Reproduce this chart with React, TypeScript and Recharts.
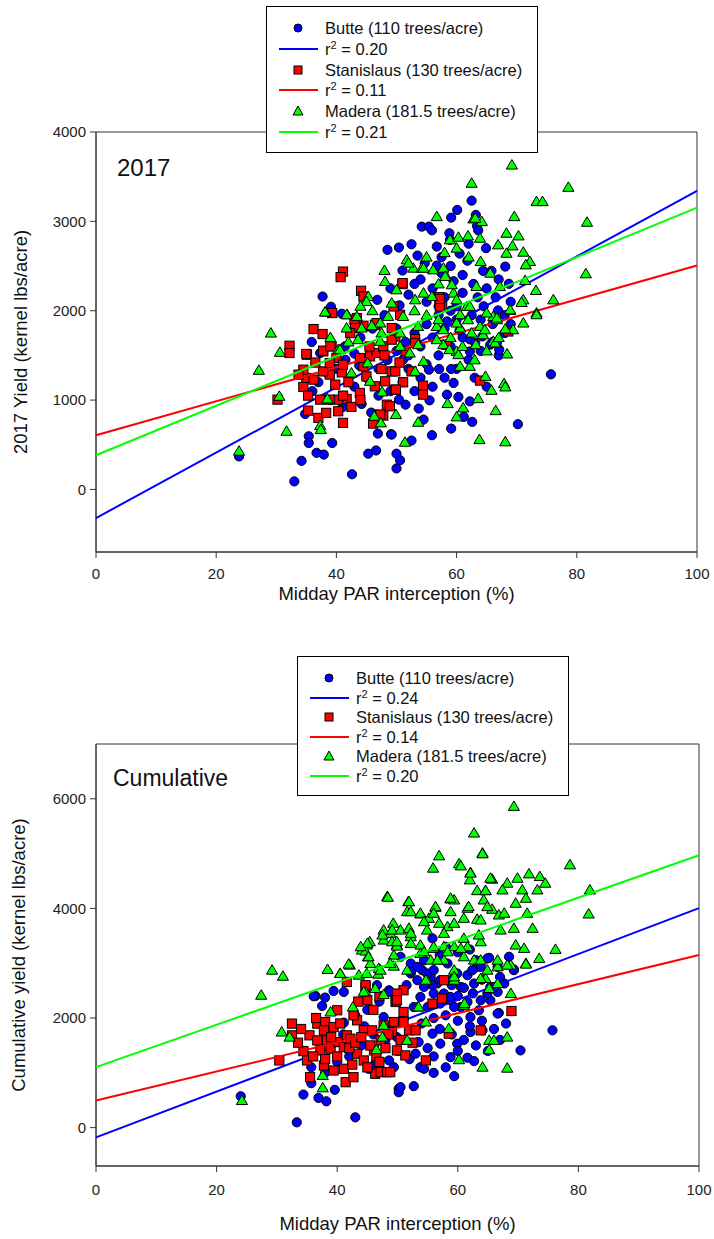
import React from 'react'
import {ScatterChart, Scatter, XAxis, YAxis, ReferenceArea, Legend} from 'recharts'

const FONT = '"Liberation Sans", Arial, sans-serif'

// axis ticks
const xTicks = [0, 20, 40, 60, 80, 100]
const yTicks2017 = [0, 1000, 2000, 3000, 4000]
const yTicksCum = [0, 2000, 4000, 6000]

const seriesNames = ['Butte (110 trees/acre)', 'Stanislaus (130 trees/acre)', 'Madera (181.5 trees/acre)']
const r2Values2017 = ['0.20', '0.11', '0.21']
const r2ValuesCum = ['0.24', '0.14', '0.20']

// regression lines, yield at 0 % and at 100 % interception
const fitButte2017 = [-320, 3340]
const fitStan2017 = [607, 2506]
const fitMadera2017 = [383, 3154]
const fitButteCum = [-178, 4005]
const fitStanCum = [494, 3150]
const fitMaderaCum = [1104, 4969]

// [PAR interception %, yield lbs/acre]
const butte2017: [number, number][] = [
    [23.8, 370], [33, 90], [34.2, 320], [35.4, 595], [35.4, 520], [36.7, 410], [37.9, 390], [39.3, 520], [42.6, 170],
    [34.8, 845], [45.3, 400], [46.6, 436], [46.9, 625], [49.1, 618], [50, 400], [50, 235], [50.6, 327], [44.2, 957],
    [45.8, 860], [46.7, 838], [52.5, 547], [55.9, 607], [59.1, 681], [62.6, 756], [61.2, 812], [54.5, 782], [53.7, 905],
    [49.2, 614], [55.5, 997], [60.3, 1035], [58.4, 1061], [62.2, 986], [51.5, 949], [50.4, 1005], [75.7, 1288], [70.2, 730],
    [37.7, 2159], [39.1, 2044], [40.9, 1966], [46.8, 2122], [35.9, 1650], [37.3, 1527], [41.4, 1601], [43.8, 1388],
    [62.5, 3232], [63.2, 3072], [60.1, 3128], [59.1, 3042], [54.2, 2941], [55.4, 2941], [63.4, 2949], [63.6, 2900],
    [52.5, 2744], [50.4, 2707], [48.5, 2681], [56.7, 2718], [53.5, 2617], [58.8, 2867], [58.9, 2793], [64.9, 2700],
    [56.7, 2505], [54.7, 2532], [64.4, 2446], [65.8, 2446], [68.1, 2494], [66.9, 2003], [68.7, 2301], [62, 2750],
    [60.5, 2640], [61.8, 2560], [57.5, 2420], [59.5, 2330], [61, 2200], [63.5, 2150], [65, 2250], [67, 2350], [69, 2100],
    [66, 1850], [64, 1900], [62.5, 1950], [60, 2050], [58, 2150], [56, 2250], [54, 2350], [52, 2180], [50.5, 2060],
    [48, 1950], [46, 1800], [44, 1700], [43, 1520], [41.5, 1450], [40, 1350], [38.5, 1300], [37, 1200], [36, 1100],
    [39, 1000], [41, 920], [43, 1150], [45, 1250], [47, 1350], [48.5, 1450], [50, 1550], [51.5, 1650], [53, 1750],
    [55, 1850], [57, 1950], [52, 1350], [54, 1250], [56, 1150], [58, 1250], [60, 1350], [62, 1450], [64, 1550],
    [66, 1650], [68, 1750], [63, 1250], [65, 1150], [67, 1500], [69, 1850], [61, 1700], [59, 1600], [57, 1500],
    [55, 1400], [53, 1100], [51, 1200], [49, 1100], [47, 1050], [58.4, 1880], [60.5, 1780], [62.2, 1680], [64.3, 1712],
    [65.6, 1620], [66.7, 1639], [67.1, 1564], [63.1, 1639], [62.2, 1545], [51.1, 1452], [55.4, 1340], [57.1, 1348],
    [59.1, 1348], [59.5, 1192], [55.9, 2900], [57.5, 2600], [59, 2500], [61, 2400], [62.8, 2300], [64.5, 2050],
    [66.5, 2150], [68, 1950], [60, 1900], [58, 1800], [56, 1700], [54, 1600], [52, 1500], [50, 1800], [49, 2250],
    [51, 2450], [53, 2300], [55, 2100], [57, 2050], [59, 2000],
]

const stan2017: [number, number][] = [
    [36.2, 1795], [37.7, 1739], [32.2, 1608], [32.2, 1527], [35.1, 1508], [37.8, 1545], [34.5, 1147], [35.3, 1050],
    [30.2, 1005], [35.3, 882], [37, 801], [38.3, 857], [41.1, 745], [40.3, 875], [41.7, 1013], [42.5, 924], [40.3, 1005],
    [39.8, 1173], [40.9, 1310], [38.9, 1285], [37.8, 1321], [37.3, 1005], [38.9, 1005], [41.1, 1050], [43.9, 1080],
    [45, 1265], [46.4, 1154], [47.5, 1348], [48.1, 1210], [49.2, 1321], [49.8, 1117], [48.4, 949], [47.8, 827],
    [46.1, 737], [47.3, 838], [44.5, 1377], [43.9, 1471], [45.6, 1489], [46.7, 1527], [47.8, 1601], [49.8, 1712],
    [49.2, 1806], [44.5, 1832], [43.4, 1918], [46.4, 1843], [39.2, 1601], [40, 1471], [41.1, 1396], [35, 1248],
    [36.2, 1229], [34.5, 1340], [33.7, 1285], [38.9, 1415], [41.1, 2438], [40.7, 2376], [44.1, 2223], [44.5, 2159],
    [51, 2298], [57.1, 2152], [57.6, 2048], [39.3, 1974], [43, 1899], [43.1, 1806], [42.3, 1750], [46.7, 1862],
    [49.2, 1676], [50.6, 1955], [53.1, 1683], [35, 1516], [37.8, 1553], [39, 1601], [58.3, 1620], [63.9, 1218],
    [54.4, 1162], [54.4, 1061], [51.1, 1199], [49.9, 1117], [49.8, 1321], [52.5, 1321], [48.9, 931], [53.1, 1639],
    [68.6, 1768], [49.5, 2048], [57.2, 2048], [51, 2309], [57.2, 2133], [36.5, 1420], [42, 1200], [44, 1000],
    [45.5, 1600], [48, 1500], [51.5, 1550], [50.5, 1420],
]

const madera2017: [number, number][] = [
    [29.1, 1750], [30.6, 1534], [27.1, 1333], [30.5, 1042], [31.7, 651], [23.8, 428], [37.3, 715], [37.4, 670],
    [38.5, 1013], [42.5, 1303], [38.2, 1985], [41.8, 1955], [40.3, 1564], [45.2, 1415], [45.6, 1210], [46.3, 819],
    [47.4, 745], [47.6, 1091], [49.9, 838], [62.5, 3426], [56.7, 3053], [62.8, 3027], [64.2, 2997], [58.9, 2793],
    [60.3, 2822], [61.9, 2837], [63.9, 2811], [66.9, 2737], [51.7, 2569], [52.8, 2476], [54.2, 2476], [56.1, 2457],
    [57.8, 2476], [58.3, 2383], [48.1, 2327], [50, 2234], [45.3, 2159], [45, 2103], [43.4, 1936], [41.7, 1955],
    [38.1, 1985], [49.2, 2085], [48.6, 1936], [47.3, 1862], [51.1, 1936], [53.1, 2122], [54.5, 2197], [55.9, 2159],
    [59.5, 2197], [60, 2122], [41.7, 1806], [44.2, 1806], [45.9, 1832], [47.5, 1750], [50.6, 1750], [53.6, 1824],
    [56.7, 1824], [60.6, 1806], [63.9, 1824], [66.1, 1936], [40.6, 1564], [43.6, 1676], [47.3, 1657], [50.6, 1601],
    [53.6, 1620], [57.8, 1620], [60, 1545], [64.4, 1731], [66.1, 1657], [69.2, 3630], [78.6, 3381], [73.3, 3221],
    [74.3, 3221], [63.1, 3035], [69.6, 3053], [81.7, 2990], [68.3, 2867], [70.3, 2837], [69.3, 2725], [71.1, 2655],
    [72.2, 2550], [71.5, 2513], [81.5, 2413], [71.4, 2338], [73.2, 2226], [76.1, 2122], [71.1, 2122], [70.8, 2092],
    [68.9, 2003], [73.3, 1974], [63.3, 2271], [65.6, 2420], [68.3, 2643], [67.2, 2271], [54.5, 2476], [58.1, 2383],
    [59.2, 2290], [61.7, 2048], [65, 1974], [66.7, 1899], [52, 2532], [73.3, 1955], [71.1, 1862], [69.4, 1787],
    [68.1, 1795], [68.4, 1516], [64.8, 1265], [67.9, 1184], [68.1, 1147], [65.8, 1109], [63.6, 1016], [66.5, 882],
    [61.1, 912], [60, 812], [63.8, 558], [68.1, 533], [51.4, 528], [53.6, 752], [58.5, 961], [62.2, 1377], [60.6, 1377],
    [53.1, 1321], [54.5, 1433], [58.8, 1564], [60.3, 1508], [62.5, 1750], [64.7, 1787], [66.4, 1639], [63.2, 1620],
    [52.2, 1527], [50.6, 1601], [56.7, 1676], [57.8, 1787], [60, 1862], [61.9, 1899], [60.6, 1955], [62.2, 2048],
    [66.7, 1918], [68.9, 2011], [58, 2650], [60, 2700], [62, 2600], [64, 2550], [55, 2600], [57, 2300], [53, 2000],
    [55, 1950], [57, 1900], [59, 1700], [61, 1600], [63, 1450], [65, 1550], [67, 1700], [48, 2450], [46, 2000],
    [44, 2050], [42, 1650], [39, 1700],
]

const butteCum: [number, number][] = [
    [24, 573], [33.3, 97], [34.4, 604], [36.9, 543], [38.2, 481], [39.6, 690], [43, 188], [35.7, 1103], [35.7, 811],
    [36.4, 2403], [37.5, 2220], [38, 2373], [39.4, 2494], [41.1, 2476], [41.1, 1916], [45.2, 1074], [46.3, 1166],
    [47.7, 2018], [48.6, 1226], [49.4, 1103], [48.6, 2507], [50.2, 708], [50.2, 646], [75.7, 1775], [70.4, 1409],
    [50.5, 738], [52.7, 756], [59.4, 939], [56, 1299], [53.8, 1103], [54.4, 1074], [58.8, 1287], [61.6, 1276],
    [62.7, 1214], [66.8, 2092], [69.3, 2873], [65.4, 2567], [66.6, 2476], [67.7, 2630], [65.4, 2324], [63.5, 2141],
    [62.1, 2018], [60.5, 2201], [58.8, 2324], [57.7, 2447], [56.6, 2630], [55.5, 2750], [54.1, 2873], [52.2, 2813],
    [62.1, 1744], [64.1, 1775], [57.1, 1532], [59.9, 1532], [55.8, 1715], [53.5, 1561], [49.9, 1652], [36.1, 2397],
    [46.6, 2599], [48.8, 2476], [50.5, 3117], [52.2, 2995], [53.3, 2934], [54.9, 2813], [56, 2873], [53.3, 2690],
    [54.4, 2567], [57.1, 2690], [59.4, 2750], [61.6, 2782], [63.2, 2934], [65.2, 3098], [66.6, 2934], [62.7, 2630],
    [60.5, 2567], [58.8, 2385], [56, 2447], [53.8, 2385], [52.7, 2201], [57.1, 2264], [59.4, 2201], [61.6, 2293],
    [63.8, 2324], [64.9, 2447], [66.6, 2081], [66, 2567], [55.8, 3453], [63, 3056], [64.9, 3087], [68.5, 3117],
    [69.3, 2886], [63.8, 2934], [54.4, 3056], [58.3, 2995], [62.4, 2873], [52.2, 2842], [59.9, 2813], [51, 2000],
    [52, 1800], [54, 1900], [56, 2000], [58, 2050], [60, 1950], [62, 1850], [64, 1950], [66, 1800], [68, 1900],
    [55, 2200], [57, 1800], [59, 1700], [61, 1600], [63, 1500], [65, 1400], [67, 1600], [60, 1400], [58, 1100],
    [56, 1000], [52, 1250], [50, 1400], [48, 1600], [46, 1700], [44, 1500], [42, 1300], [40, 1200], [38, 1000],
    [55, 1450], [53, 1350], [61, 2550], [59, 2600], [57, 3150], [60, 3200], [62, 3250], [58, 3300], [64, 2700],
    [67, 2750], [62.5, 2450], [60, 2400], [55.8, 2600], [51.5, 2600], [47, 2300], [45, 2150], [43, 2050],
    [44.5, 1850], [41, 1700],
]

const stanCum: [number, number][] = [
    [30.4, 1226], [32.5, 1898], [32.5, 1684], [35.4, 1684], [34.4, 1396], [35, 1226], [35.5, 920], [36.7, 1898],
    [38, 1927], [37.8, 1775], [39.4, 1836], [36.7, 1592], [38.3, 1592], [37.2, 1409], [38.9, 1440], [40.2, 1561],
    [41.6, 1684], [41.1, 1470], [37.8, 1135], [39.4, 1043], [41.1, 1074], [41.4, 829], [42.7, 920], [43.3, 1958],
    [44.4, 1775], [45.8, 1775], [45, 2324], [44.7, 2567], [46.1, 1409], [47.2, 1592], [47.7, 1867], [49.1, 1744],
    [49.7, 2324], [49.9, 1409], [46.3, 982], [47.2, 1012], [48.3, 1012], [40, 2141], [42.2, 1623], [43.3, 1349],
    [44.4, 1226], [68.9, 2128], [54.7, 1226], [63.8, 1775], [58.5, 1715], [55.8, 2264], [57.4, 2355], [57.7, 2690],
    [51, 2507], [49.9, 2447], [49.7, 2293], [51, 2110], [51, 1927], [49.4, 1927], [51.9, 1775], [53, 1775],
    [51.3, 1318], [48.8, 1012], [44.7, 2599], [41.6, 2659], [49.9, 2324], [42.7, 2050], [36, 1300], [38, 1250],
    [39, 1650], [40.5, 1900], [42, 1450], [43, 1550], [44, 1650], [45.5, 1500], [46.5, 1300], [48, 1450], [36.5, 2000],
    [34, 1800], [33.5, 1550], [40, 1300], [42.5, 1150], [45, 1100], [47, 1200], [48.5, 1700], [50.5, 1600],
    [52.5, 1550], [46, 2150], [47, 2400], [43.5, 2300],
]

const maderaCum: [number, number][] = [
    [29.2, 2873], [31, 2763], [27.4, 2416], [30.8, 1744], [32.1, 1652], [24.2, 494], [37.6, 952], [37.6, 726],
    [38.9, 2110], [38.4, 2886], [40.5, 2813], [42.1, 2965], [43.6, 2782], [44.9, 2813], [46.8, 2800], [49.4, 2946],
    [42.6, 2201], [44.7, 2476], [46.3, 2538], [47.7, 2428], [47.5, 1652], [46.5, 1422], [47.7, 1867], [48.3, 4215],
    [49.3, 3728], [47.7, 3545], [48.8, 3545], [47.7, 3422], [49.1, 3391], [45.4, 3391], [44.9, 3331], [44.1, 3239],
    [44.7, 3221], [45.1, 3117], [41.9, 2983], [45.5, 2995], [46.9, 2904], [49.4, 3148], [49.9, 3331], [62.7, 5375],
    [56.9, 4959], [55.9, 4734], [64.1, 5009], [60.2, 4813], [60.5, 4776], [62.1, 4654], [62, 4520], [65.7, 4533],
    [63.2, 4324], [64.6, 4324], [48.4, 4203], [51.8, 4123], [58.8, 4172], [59.4, 4154], [56.3, 4020], [61.6, 4002],
    [64.3, 4154], [65.7, 3984], [51.6, 3940], [53.8, 3898], [55.2, 3819], [58.8, 3940], [61, 3819], [63.2, 3801],
    [66.8, 3880], [47.7, 3605], [49.1, 3605], [50.5, 3605], [51.9, 3636], [54.9, 3605], [58.3, 3666], [61, 3453],
    [63.8, 3788], [47.5, 3514], [49.9, 3312], [52.2, 3483], [53.8, 3331], [56, 3270], [57.7, 3300], [59.4, 3300],
    [61.6, 3300], [63.8, 3391], [45, 3361], [43.9, 3300], [40.5, 2813], [45.2, 3117], [47.2, 2873], [48.8, 2995],
    [53.8, 3178], [55.5, 3056], [57.7, 3056], [61, 3117], [62.7, 3056], [66.6, 2934], [44.4, 2476], [54.9, 2690],
    [59.4, 2690], [64.6, 2721], [61, 2233], [53.3, 2201], [69.3, 5861], [64.1, 4996], [78.6, 4795], [62.1, 4643],
    [65.4, 4551], [69.9, 4551], [71.8, 4630], [73.6, 4581], [74.5, 4460], [73.2, 4337], [70.7, 4337], [68.2, 4460],
    [67.4, 4337], [64.6, 4324], [81.9, 4337], [81.7, 3898], [71.3, 4185], [69.6, 4094], [71.5, 3911], [67.7, 3911],
    [64.9, 4032], [61.8, 4032], [58.8, 4185], [56.3, 4032], [51.9, 4123], [69.3, 3636], [72.4, 3636], [67.1, 3605],
    [63.5, 3514], [69.6, 3331], [71, 3270], [76.2, 3252], [73.5, 3087], [71.3, 2995], [52.2, 3940], [53.8, 3911],
    [56, 3911], [54.4, 3757], [56.9, 3728], [59.4, 3728], [57.7, 3545], [52.2, 3545], [49.9, 3391], [52.2, 3361],
    [54.4, 3208], [56, 3300], [58.3, 3208], [60.5, 3270], [56.6, 3056], [59.4, 2873], [63.8, 3056], [66.6, 3056],
    [68.8, 2965], [68.2, 1652], [68.2, 1085], [64.1, 1103], [65.2, 1592], [66, 1592], [65.2, 1422], [60.2, 1239],
    [58.5, 1806], [61.1, 2264], [54.7, 1927], [53.5, 2201], [51.6, 1592], [68.8, 2447], [66.6, 2630], [65.2, 2538],
    [63.8, 2721], [64.9, 2873], [68.2, 2965], [71.3, 2983], [59.4, 2750], [54.7, 2690], [51.6, 2873],
]

const BLUE = '#0000ff'
const RED = '#ff0000'
const GREEN = '#00ff00'
const AXIS = '#333333'

const toPoints = (pts: [number, number][]) => pts.map(([x, y]) => ({x, y}))
const toLine = (fit: number[]) => [{x: 0, y: fit[0]}, {x: 100, y: fit[1]}]

const CircleMark = (props: any) => (
    <circle cx={props.cx} cy={props.cy} r={4.6} fill={BLUE} stroke="#000" strokeWidth={1} />
)
const SquareMark = (props: any) => (
    <rect x={props.cx - 4.6} y={props.cy - 4.6} width={9.2} height={9.2} fill={RED} stroke="#000" strokeWidth={1} />
)
const TriangleMark = (props: any) => {
    const {cx, cy} = props
    return (
        <polygon
            points={`${cx},${cy - 5.5} ${cx + 5.6},${cy + 4} ${cx - 5.6},${cy + 4}`}
            fill={GREEN}
            stroke="#000"
            strokeWidth={1}
        />
    )
}
const NoMark = () => <g />

const LegendBox = ({r2, width, height, step}: {r2: string[]; width: number; height: number; step: number}) => {
    const colors = [BLUE, RED, GREEN]
    const markers = [
        <circle key="c" cx={8} cy={8} r={4} fill={BLUE} stroke="#000" />,
        <rect key="s" x={4} y={4} width={8} height={8} fill={RED} stroke="#000" />,
        <polygon key="t" points="8,3 13,12 3,12" fill={GREEN} stroke="#000" />,
    ]
    const rows: React.ReactNode[] = []
    seriesNames.forEach((name, i) => {
        const top1 = 21 + step * (i * 2) - 10
        const top2 = 21 + step * (i * 2 + 1) - 10
        rows.push(
            <div key={name} style={{position: 'absolute', left: 0, top: top1, height: 20, width: '100%'}}>
                <svg width={16} height={16} style={{position: 'absolute', left: 23, top: 2}}>{markers[i]}</svg>
                <span style={{position: 'absolute', left: 58, top: 0, lineHeight: '20px', whiteSpace: 'nowrap'}}>{name}</span>
            </div>,
            <div key={name + '-fit'} style={{position: 'absolute', left: 0, top: top2, height: 20, width: '100%'}}>
                <div style={{position: 'absolute', left: 12, top: 9, width: 39, height: 2, background: colors[i]}} />
                <span style={{position: 'absolute', left: 58, top: 0, lineHeight: '20px', whiteSpace: 'nowrap'}}>
                    r<span style={{fontSize: 11, position: 'relative', top: -6}}>2</span> = {r2[i]}
                </span>
            </div>
        )
    })
    return (
        <div
            style={{
                position: 'relative',
                width,
                height,
                boxSizing: 'border-box',
                border: '1px solid #000',
                background: '#fff',
                fontFamily: FONT,
                fontSize: 16.5,
                color: '#111',
            }}
        >
            {rows}
        </div>
    )
}

type PanelProps = {
    height: number
    margin: {top: number; right: number; bottom: number; left: number}
    xAxisHeight: number
    xTickMargin: number
    xTitleOffset: number
    yTitleOffset: number
    yDomain: number[]
    yTicks: number[]
    yTitle: string
    butte: [number, number][]
    stan: [number, number][]
    madera: [number, number][]
    fits: number[][]
    r2: string[]
    legend: {left: number; top: number; width: number; height: number; step: number}
}

const YieldPanel = (p: PanelProps) => {
    const tickStyle = {fontSize: 15, fill: '#222', fontFamily: FONT}
    return (
        <ScatterChart width={714} height={p.height} margin={p.margin}>
            <XAxis
                type="number"
                dataKey="x"
                domain={[0, 100]}
                ticks={xTicks}
                height={p.xAxisHeight}
                tick={tickStyle}
                tickSize={6}
                tickMargin={p.xTickMargin}
                stroke={AXIS}
                label={{
                    value: 'Midday PAR interception (%)',
                    position: 'insideBottom',
                    offset: p.xTitleOffset,
                    style: {fontSize: 18.5, fill: '#111', fontFamily: FONT},
                }}
            />
            <YAxis
                type="number"
                dataKey="y"
                domain={p.yDomain}
                ticks={p.yTicks}
                width={96}
                tick={tickStyle}
                tickSize={6}
                tickMargin={4}
                stroke={AXIS}
                allowDataOverflow
                label={{
                    value: p.yTitle,
                    angle: -90,
                    position: 'insideLeft',
                    offset: p.yTitleOffset,
                    style: {fontSize: 18.5, fill: '#111', fontFamily: FONT, textAnchor: 'middle'},
                }}
            />
            <ReferenceArea x1={0} x2={100} y1={p.yDomain[0]} y2={p.yDomain[1]} fill="none" stroke={AXIS} strokeWidth={1} />
            <Scatter data={toPoints(p.butte)} shape={CircleMark} isAnimationActive={false} />
            <Scatter data={toLine(p.fits[0])} shape={NoMark} line={{stroke: BLUE, strokeWidth: 2}} isAnimationActive={false} />
            <Scatter data={toPoints(p.stan)} shape={SquareMark} isAnimationActive={false} />
            <Scatter data={toLine(p.fits[1])} shape={NoMark} line={{stroke: RED, strokeWidth: 2}} isAnimationActive={false} />
            <Scatter data={toPoints(p.madera)} shape={TriangleMark} isAnimationActive={false} />
            <Scatter data={toLine(p.fits[2])} shape={NoMark} line={{stroke: GREEN, strokeWidth: 2}} isAnimationActive={false} />
            <Legend
                layout="vertical"
                align="center"
                verticalAlign="middle"
                wrapperStyle={{left: p.legend.left, top: p.legend.top, width: p.legend.width, height: p.legend.height}}
                content={() => (
                    <LegendBox r2={p.r2} width={p.legend.width} height={p.legend.height} step={p.legend.step} />
                )}
            />
        </ScatterChart>
    )
}

export default function App() {
    return (
        <div style={{position: 'absolute', left: 0, top: 0, width: 714, height: 1239, background: '#fff', fontFamily: FONT}}>
            <div style={{position: 'absolute', left: 0, top: 0}}>
                <YieldPanel
                    height={610}
                    margin={{top: 132, right: 17, bottom: 0, left: 0}}
                    xAxisHeight={58}
                    xTickMargin={10}
                    xTitleOffset={10}
                    yTitleOffset={20}
                    yDomain={[-700, 4000]}
                    yTicks={yTicks2017}
                    yTitle="2017 Yield (kernel lbs/acre)"
                    butte={butte2017}
                    stan={stan2017}
                    madera={madera2017}
                    fits={[fitButte2017, fitStan2017, fitMadera2017]}
                    r2={r2Values2017}
                    legend={{left: 266, top: 6, width: 272, height: 147, step: 20.8}}
                />
            </div>
            <div style={{position: 'absolute', left: 117, top: 156, fontSize: 24, lineHeight: '24px', color: '#111'}}>2017</div>
            <div style={{position: 'absolute', left: 0, top: 620}}>
                <YieldPanel
                    height={619}
                    margin={{top: 124, right: 15, bottom: 0, left: 0}}
                    xAxisHeight={73}
                    xTickMargin={12}
                    xTitleOffset={9}
                    yTitleOffset={18}
                    yDomain={[-700, 7000]}
                    yTicks={yTicksCum}
                    yTitle="Cumulative yield (kernel lbs/acre)"
                    butte={butteCum}
                    stan={stanCum}
                    madera={maderaCum}
                    fits={[fitButteCum, fitStanCum, fitMaderaCum]}
                    r2={r2ValuesCum}
                    legend={{left: 297, top: 36, width: 272, height: 140, step: 19.6}}
                />
            </div>
            <div style={{position: 'absolute', left: 113, top: 767, fontSize: 23, lineHeight: '23px', color: '#111'}}>Cumulative</div>
        </div>
    )
}
